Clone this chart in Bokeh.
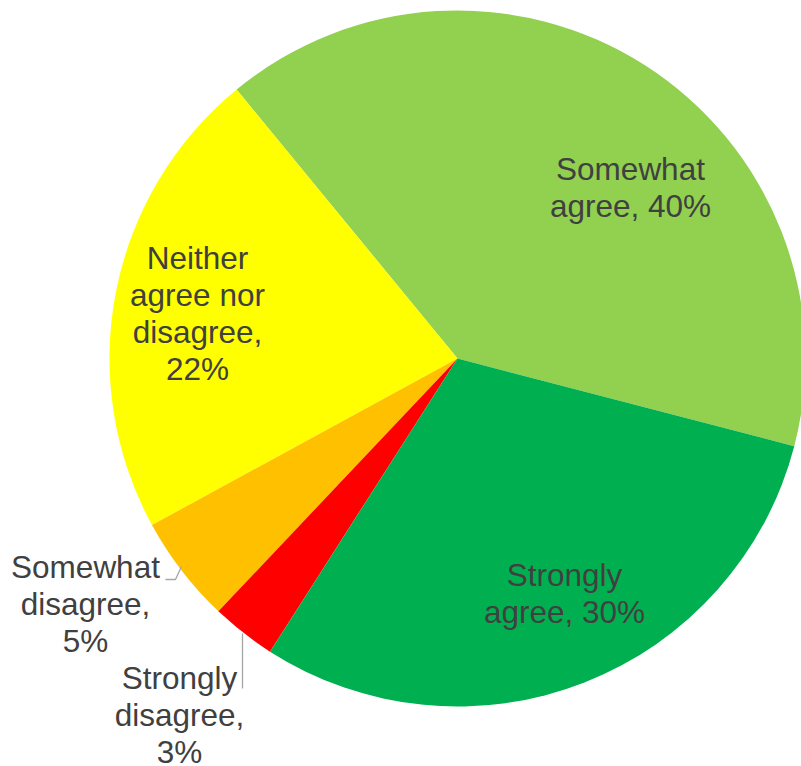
import math
from bokeh.plotting import figure
from bokeh.models import Range1d, ColumnDataSource
from bokeh.core.properties import value
from bokeh.embed import file_html
from bokeh.resources import INLINE

# ---- data (counter-clockwise order from the start angle) ----
categories = ["Somewhat agree", "Neither agree nor disagree", "Somewhat disagree",
              "Strongly disagree", "Strongly agree"]
percent = [40, 22, 5, 3, 30]
colors = ["#92D050", "#FFFF00", "#FFC000", "#FF0000", "#00B050"]
label_lines = [
    ["Somewhat", "agree, 40%"],
    ["Neither", "agree nor", "disagree,", "22%"],
    ["Somewhat", "disagree,", "5%"],
    ["Strongly", "disagree,", "3%"],
    ["Strongly", "agree, 30%"],
]

# ---- layout (image pixel coordinates, y downward -> data y = -img_y) ----
W, H = 801, 766
CX, CY, R = 457, 358, 348
START_DEG = -14.6
FONT = "Liberation Sans"
FS = "31.5px"
LINE_H = 37
TEXT_DY = -11
# label anchor: (center x, baseline of first line) in image px
label_anchor = [(630, 179), (197, 268), (85, 577), (179, 688), (564, 585)]

p = figure(width=W, height=H, output_backend="svg", toolbar_location=None,
           x_range=Range1d(0, W), y_range=Range1d(-H, 0),
           match_aspect=False)
p.axis.visible = False
p.grid.visible = False
p.outline_line_color = None
p.min_border = 0
p.min_border_left = p.min_border_right = p.min_border_top = p.min_border_bottom = 0
p.background_fill_color = "white"
p.border_fill_color = "white"

total = float(sum(percent))
starts, ends = [], []
a = math.radians(START_DEG)
for v in percent:
    starts.append(a)
    a += 2 * math.pi * v / total
    ends.append(a)

src = ColumnDataSource(dict(cat=categories, start=starts, end=ends, color=colors,
                            x=[CX] * len(percent), y=[-CY] * len(percent)))
p.wedge(x="x", y="y", radius=R, radius_units="data", start_angle="start",
        end_angle="end", fill_color="color", line_color=None, source=src)

# leader lines for small slices
p.line(x=[165, 175, 181], y=[-579, -579, -566], line_color="#A6A6A6", line_width=1.3)
p.line(x=[242, 242], y=[-633, -688], line_color="#A6A6A6", line_width=1.3)

tx, ty, tt = [], [], []
for (ax, ay), lines in zip(label_anchor, label_lines):
    for i, ln in enumerate(lines):
        tx.append(ax)
        ty.append(-(ay + TEXT_DY + i * LINE_H))
        tt.append(ln)
p.text(x=tx, y=ty, text=tt, text_font=value(FONT), text_font_size=FS,
       text_color="#404040", text_align="center", text_baseline="alphabetic")

open("out.html", "w").write(file_html(p, INLINE))
